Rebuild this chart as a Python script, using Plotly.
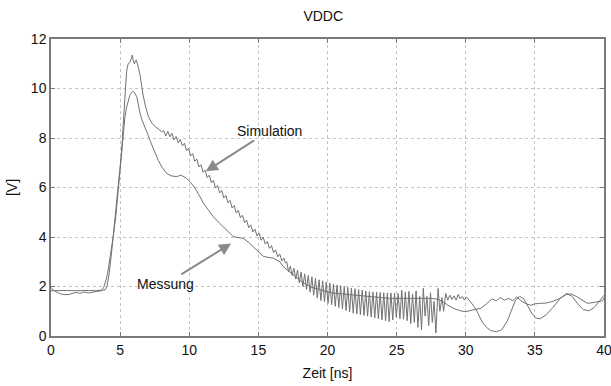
import plotly.graph_objects as go

# ---- Simulation (upper curve) ----
sim_rise_t = [0.0, 0.4, 0.8, 1.2, 1.6, 2.0, 2.4, 2.8, 3.2, 3.6, 3.9, 4.05, 4.2, 4.35, 4.5, 4.65, 4.8, 4.95,
              5.1, 5.23, 5.35, 5.47, 5.58, 5.7, 5.8, 5.88, 5.96, 6.03, 6.1, 6.17, 6.28, 6.44, 6.56, 6.67,
              6.85, 7.05, 7.3, 7.55, 7.8, 8.0]
sim_rise_v = [1.83, 1.84, 1.82, 1.84, 1.83, 1.84, 1.82, 1.84, 1.83, 1.84, 1.86, 2.0, 2.5, 3.2, 4.0, 4.8, 5.6, 6.5,
              7.4, 8.6, 9.8, 10.7, 11.0, 11.05, 11.2, 11.35, 11.1, 11.0, 11.12, 11.15, 10.95, 10.55, 10.1, 9.7,
              9.25, 8.86, 8.6, 8.45, 8.35, 8.25]

sim_ripple_t = [8.15, 8.30, 8.45, 8.60, 8.75, 8.90, 9.05, 9.20, 9.35, 9.50, 9.65, 9.80, 9.95, 10.10, 10.25,
                10.40, 10.55, 10.70, 10.85, 11.00, 11.15, 11.30, 11.45, 11.60, 11.75, 11.90, 12.05, 12.20,
                12.35, 12.50, 12.65, 12.80, 12.95, 13.10, 13.25, 13.40, 13.55, 13.70, 13.85, 14.00, 14.15,
                14.30, 14.45, 14.60, 14.75, 14.90, 15.05, 15.20, 15.35, 15.50, 15.65, 15.80, 15.95, 16.10,
                16.25, 16.40, 16.55, 16.70, 16.85, 16.95]
sim_ripple_v = [8.30, 8.08, 8.27, 8.05, 8.19, 7.92, 8.06, 7.80, 7.94, 7.68, 7.79, 7.49, 7.58, 7.28, 7.37,
                7.06, 7.15, 6.83, 6.92, 6.61, 6.70, 6.40, 6.50, 6.19, 6.29, 5.98, 6.08, 5.78,
                5.88, 5.58, 5.68, 5.38, 5.48, 5.17, 5.27, 4.97, 5.08, 4.78, 4.88, 4.58, 4.68,
                4.38, 4.49, 4.20, 4.32, 4.04, 4.16, 3.87, 3.99, 3.71, 3.82, 3.54, 3.65, 3.37,
                3.48, 3.20, 3.31, 3.03, 3.15, 2.95]

sim_ring_t = [17.05, 17.18, 17.31, 17.44, 17.57, 17.70, 17.83, 17.96, 18.09, 18.22, 18.35, 18.48, 18.61, 18.74,
              18.87, 19.00, 19.13, 19.26, 19.39, 19.52, 19.65, 19.78, 19.91, 20.04, 20.17, 20.30, 20.43, 20.56,
              20.69, 20.82, 20.95, 21.08, 21.21, 21.34, 21.47, 21.60, 21.73, 21.86, 21.99, 22.12, 22.25, 22.38,
              22.51, 22.64, 22.77, 22.90, 23.03, 23.16, 23.29, 23.42, 23.55, 23.68, 23.81, 23.94, 24.07, 24.20,
              24.33, 24.46, 24.59, 24.72, 24.85, 24.98, 25.11, 25.24, 25.37, 25.50, 25.63, 25.76, 25.89, 26.02,
              26.15, 26.28, 26.41, 26.54, 26.67, 26.80, 26.93, 27.06, 27.19, 27.32, 27.45, 27.58, 27.71, 27.84,
              28.00, 28.13, 28.28, 28.40, 28.55]
sim_ring_v = [3.00, 2.60, 2.82, 2.45, 2.74, 2.30, 2.66, 2.15, 2.58, 2.00, 2.51, 1.88, 2.45, 1.77,
              2.39, 1.65, 2.33, 1.54, 2.27, 1.43, 2.23, 1.38, 2.18, 1.32, 2.14, 1.26, 2.10, 1.20,
              2.06, 1.15, 2.03, 1.09, 2.00, 1.03, 1.97, 0.98, 1.94, 0.92, 1.91, 0.89, 1.88, 0.86,
              1.85, 0.83, 1.82, 0.80, 1.79, 0.77, 1.78, 0.73, 1.77, 0.69, 1.76, 0.65, 1.75, 0.61,
              1.74, 0.58, 1.74, 0.65, 1.73, 0.75, 1.72, 0.70, 1.85, 0.68, 1.78, 0.62, 1.80, 0.50,
              1.70, 0.55, 1.82, 0.35, 1.60, 0.26, 1.93, 0.80, 1.60, 0.42, 1.75, 0.55, 1.40, 0.12,
              1.92, 1.00, 1.55, 1.00, 1.72]

sim_tail_t = [28.7, 28.85, 29.0, 29.15, 29.3, 29.45, 29.6, 29.75, 29.9, 30.05, 30.2, 30.35, 30.6, 30.9, 31.2,
              31.5, 31.8, 32.2, 32.6, 33.0, 33.3, 33.6, 33.9, 34.2, 34.5, 34.8, 35.1, 35.4, 35.8, 36.3,
              36.8, 37.3, 37.7, 38.1, 38.5, 38.9, 39.3, 39.7, 40.0]
sim_tail_v = [1.45, 1.65, 1.48, 1.62, 1.45, 1.68, 1.50, 1.60, 1.45, 1.58, 1.48, 1.40, 1.20, 0.90, 0.55,
              0.35, 0.22, 0.17, 0.25, 0.60, 1.05, 1.45, 1.60, 1.50, 1.20, 0.90, 0.72, 0.70, 0.85, 1.15,
              1.50, 1.72, 1.60, 1.30, 1.07, 1.02, 1.15, 1.45, 1.65]

# ---- Messung (lower curve) ----
mes_t = [0.0, 0.15, 0.4, 0.7, 1.0, 1.3, 1.6, 1.9, 2.1, 2.4, 2.7, 3.0, 3.3, 3.6, 3.8, 4.0, 4.15, 4.3, 4.5,
         4.7, 4.87, 5.0, 5.11, 5.25, 5.35, 5.47, 5.59, 5.72, 5.85, 5.95, 6.05, 6.2, 6.32, 6.44, 6.6, 6.8,
         7.0, 7.16, 7.45, 7.76, 8.05, 8.37, 8.7, 9.09, 9.4, 9.6, 9.81, 10.1, 10.41, 10.7, 11.01, 11.4,
         11.74, 12.2, 12.7, 13.18, 13.5, 13.9, 14.3, 14.63, 15.0, 15.35, 15.7, 16.07, 16.56, 16.8, 17.2,
         17.7, 18.24, 18.8, 19.45, 20.0, 20.66, 21.3, 21.86, 22.5, 23.07, 23.8, 24.5, 25.5, 26.5, 27.5,
         28.0, 28.3, 28.7, 29.1, 29.6, 30.0, 30.4, 30.8, 31.1, 31.5, 31.9, 32.2, 32.5, 32.8, 33.1, 33.4,
         33.7, 34.0, 34.3, 34.7, 35.0, 35.4, 35.8, 36.3, 36.8, 37.3, 37.6, 38.0, 38.4, 38.8, 39.2, 39.6,
         39.9, 40.0]
mes_v = [1.97, 1.86, 1.78, 1.70, 1.67, 1.68, 1.73, 1.76, 1.72, 1.78, 1.74, 1.78, 1.80, 1.82, 1.95, 2.3, 2.7,
         3.3, 4.0, 4.9, 5.9, 6.7, 7.5, 8.3, 8.86, 9.25, 9.53, 9.75, 9.85, 9.88, 9.82, 9.67, 9.35, 9.0, 8.7,
         8.45, 8.15, 7.9, 7.5, 7.1, 6.8, 6.57, 6.47, 6.44, 6.5, 6.45, 6.37, 6.2, 5.98, 5.7, 5.38, 5.08,
         4.82, 4.55, 4.28, 4.02, 3.98, 3.95, 3.78, 3.61, 3.4, 3.22, 3.18, 3.15, 3.0, 2.8, 2.62,
         2.4, 2.15, 1.98, 1.86, 1.78, 1.72, 1.69, 1.66, 1.62, 1.59, 1.55, 1.52, 1.52, 1.53, 1.52,
         1.48, 1.4, 1.25, 1.12, 1.02, 0.98, 1.04, 1.1, 1.12, 1.3, 1.5, 1.42, 1.55, 1.45, 1.52, 1.43,
         1.58, 1.42, 1.32, 1.24, 1.3, 1.32, 1.33, 1.4, 1.52, 1.68, 1.7, 1.6, 1.45, 1.32, 1.35, 1.38,
         1.42, 1.55]

x_ticks = [0, 5, 10, 15, 20, 25, 30, 35, 40]
y_ticks = [0, 2, 4, 6, 8, 10, 12]

sim_t = sim_rise_t + sim_ripple_t + sim_ring_t + sim_tail_t
sim_v = sim_rise_v + sim_ripple_v + sim_ring_v + sim_tail_v

line_color = "#727272"
fig = go.Figure()
fig.add_trace(go.Scatter(x=mes_t, y=mes_v, mode="lines", name="Messung",
                         line=dict(color=line_color, width=1)))
fig.add_trace(go.Scatter(x=sim_t, y=sim_v, mode="lines", name="Simulation",
                         line=dict(color=line_color, width=1)))

font = "Liberation Sans, Arial, sans-serif"
txt = "#111111"
axis_common = dict(showgrid=True, gridcolor="#c4c4c4", griddash="dot", gridwidth=1,
                   showline=True, linecolor="#7a7a7a", linewidth=1.5, mirror="ticks",
                   ticks="inside", ticklen=4, tickcolor="#7a7a7a", zeroline=False,
                   automargin=False, ticklabeloverflow="allow",
                   tickfont=dict(family=font, size=14, color=txt))

fig.update_layout(
    width=611, height=386,
    margin=dict(l=51, r=7, t=39, b=50, autoexpand=False),
    paper_bgcolor="white", plot_bgcolor="white",
    showlegend=False,
    title=dict(text="VDDC", x=0.529, xanchor="center", y=0.958, yanchor="middle",
               font=dict(family=font, size=14, color=txt)),
    xaxis=dict(range=[0, 40], tickvals=x_ticks, ticktext=[str(v) for v in x_ticks],
               title=dict(text="Zeit [ns]", standoff=12, font=dict(family=font, size=14, color=txt)),
               **axis_common),
    yaxis=dict(range=[0, 12], tickvals=y_ticks, ticktext=[str(v) for v in y_ticks],
               title=dict(text="[V]", standoff=10, font=dict(family=font, size=14, color=txt)),
               **axis_common),
)

fig.add_annotation(x=11.14, y=6.63, ax=64, ay=-41, text="Simulation", showarrow=True,
                   arrowhead=2, arrowsize=1.2, arrowwidth=2, arrowcolor="#8a8a8a",
                   font=dict(family=font, size=14, color=txt), standoff=1)
fig.add_annotation(x=13.09, y=3.76, ax=-66, ay=41, text="Messung", showarrow=True,
                   arrowhead=2, arrowsize=1.2, arrowwidth=2, arrowcolor="#8a8a8a",
                   font=dict(family=font, size=14, color=txt), standoff=1)

fig.write_html("out.html")
